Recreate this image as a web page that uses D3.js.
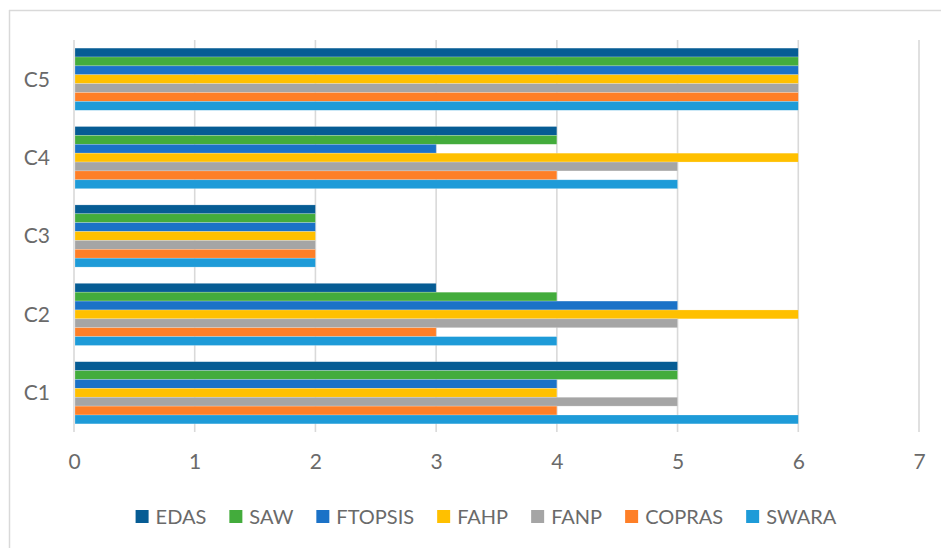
<!DOCTYPE html>
<html><head><meta charset="utf-8">
<script src="https://cdn.jsdelivr.net/npm/d3@7"></script>
<style>body{margin:0;background:#fff}svg{display:block}</style>
</head><body>
<script>
const categories = ["C1","C2","C3","C4","C5"];
const seriesNames = ["EDAS","SAW","FTOPSIS","FAHP","FANP","COPRAS","SWARA"];
const EDAS    = [5,3,2,4,6];
const SAW     = [5,4,2,4,6];
const FTOPSIS = [4,5,2,3,6];
const FAHP    = [4,6,2,6,6];
const FANP    = [5,5,2,5,6];
const COPRAS  = [4,3,2,4,6];
const SWARA   = [6,4,2,5,6];
const xTicks = [0,1,2,3,4,5,6,7];
const colors = ["#065C94","#43AC3C","#1B72C7","#FFC000","#A5A5A5","#FE7F27","#1E9BD8"];
const seriesValues = [EDAS,SAW,FTOPSIS,FAHP,FANP,COPRAS,SWARA];

(function(){
const W = 941, H = 548;
const svg = d3.select("body").append("svg").attr("width", W).attr("height", H);
const font = "Lato, 'Open Sans', sans-serif";
const textColor = "#6a6a6a";

// frame
svg.append("line").attr("x1",9).attr("x2",W).attr("y1",10.5).attr("y2",10.5).attr("stroke","#d9d9d9").attr("stroke-width",1.5);
svg.append("line").attr("x1",9.5).attr("x2",9.5).attr("y1",10).attr("y2",H).attr("stroke","#d9d9d9").attr("stroke-width",1.5);

const mLeft = 74, mRight = 919, mTop = 40, mBottom = 432;
const x = d3.scaleLinear().domain([0,7]).range([mLeft,mRight]);
const y = d3.scaleBand().domain(categories.slice().reverse()).range([mTop,mBottom]).paddingInner(0.207).paddingOuter(0.1035);
const yInner = d3.scaleBand().domain(seriesNames).range([0,y.bandwidth()]);

// gridlines
svg.append("g").selectAll("line").data(xTicks).join("line")
  .attr("x1",d=>x(d)).attr("x2",d=>x(d)).attr("y1",mTop).attr("y2",mBottom)
  .attr("stroke","#d9d9d9").attr("stroke-width",1.6);

// bars
const groups = svg.append("g").selectAll("g").data(categories).join("g")
  .attr("transform",c=>`translate(0,${y(c)})`);
groups.each(function(c,ci){
  d3.select(this).selectAll("rect").data(seriesNames).join("rect")
    .attr("x",x(0)+1)
    .attr("y",s=>yInner(s))
    .attr("height",yInner.bandwidth())
    .attr("width",(s,si)=>x(seriesValues[si][ci])-x(0)-1)
    .attr("fill",(s,si)=>colors[si])
    .attr("stroke","rgba(255,255,255,0.35)").attr("stroke-width",0.6);
});

// x axis labels
const xAxis = d3.axisBottom(x).tickValues(xTicks).tickFormat(d3.format("d")).tickSize(0).tickPadding(0);
const gx = svg.append("g").attr("transform",`translate(0,${mBottom})`).call(xAxis);
gx.select(".domain").remove();
gx.selectAll("text").attr("dy",null).attr("y",37).attr("font-family",font).attr("font-size",21).attr("fill",textColor);

// y axis labels
const yAxis = d3.axisLeft(y).tickSize(0).tickPadding(0);
const gy = svg.append("g").attr("transform",`translate(50,0)`).call(yAxis);
gy.select(".domain").remove();
gy.selectAll("text").attr("font-family",font).attr("font-size",21).attr("fill",textColor).attr("dy","0.35em");

// legend
const lg = svg.append("g");
let cx = 0;
seriesNames.forEach((s,i)=>{
  const g = lg.append("g");
  g.append("rect").attr("x",0).attr("y",-7).attr("width",13).attr("height",13).attr("fill",colors[i]);
  const t = g.append("text").attr("x",20).attr("y",0).attr("dy","0.35em").text(s)
    .attr("font-family",font).attr("font-size",20).attr("fill",textColor);
  const w = 20 + t.node().getComputedTextLength();
  g.attr("transform",`translate(${cx},0)`);
  cx += w + 23;
});
const total = cx - 23;
lg.attr("transform",`translate(${486 - total/2},517)`);
})();
</script>
</body></html>
